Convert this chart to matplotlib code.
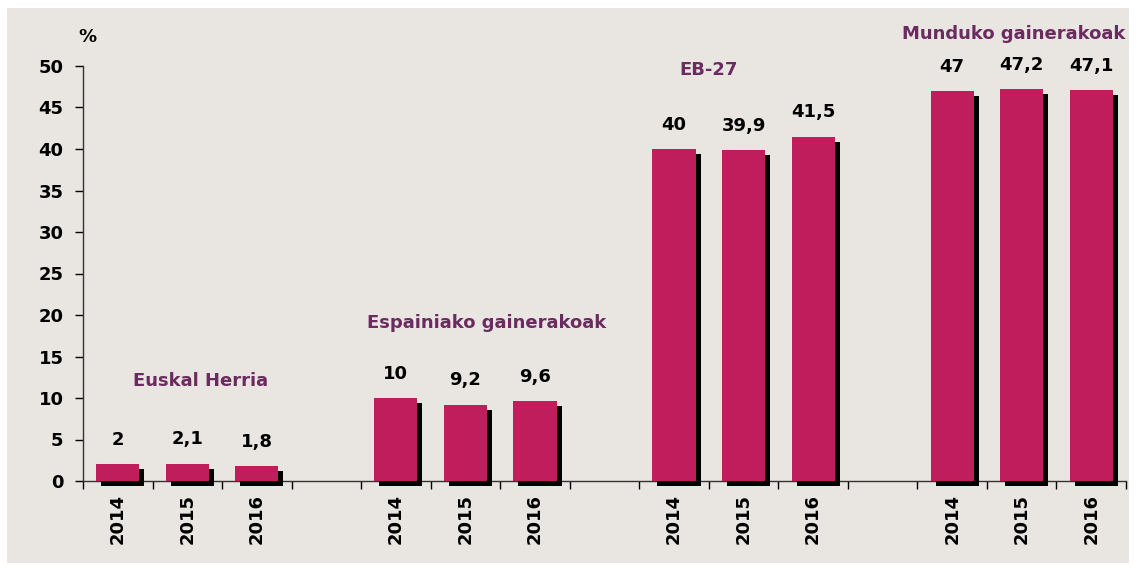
import numpy as np
import matplotlib.pyplot as plt
import matplotlib.patheffects as pe
from matplotlib.patches import Rectangle

# data
groups = ["Euskal Herria", "Espainiako gainerakoak", "EB-27", "Munduko gainerakoak"]
years = ["2014", "2015", "2016"]
euskal_herria = [2, 2.1, 1.8]
espainia = [10, 9.2, 9.6]
eb27 = [40, 39.9, 41.5]
mundua = [47, 47.2, 47.1]
series = [euskal_herria, espainia, eb27, mundua]

bar_color = "#C01D5C"
title_color = "#6B2B60"
bg = "#E9E6E1"

fig = plt.figure(figsize=(11.38, 5.71), dpi=100)
fig.patches.append(Rectangle((7 / 1138, 8 / 571), 1122 / 1138, 555 / 571,
                             transform=fig.transFigure, facecolor=bg,
                             edgecolor="none", zorder=-10))
ax = fig.add_axes([83 / 1138, 90 / 571, 1043 / 1138, 415 / 571])
ax.set_facecolor("none")

# slot positions: 3 bars + one empty slot between groups
xs, labels, vals = [], [], []
for g, vals_g in enumerate(series):
    for i, v in enumerate(vals_g):
        xs.append(g * 4 + i)
        labels.append(years[i])
        vals.append(v)

shadow = [pe.SimplePatchShadow(offset=(3.6, -3.6), shadow_rgbFace="black", alpha=1.0),
          pe.Normal()]
bars = ax.bar(xs, vals, width=0.62, color=bar_color, zorder=3)
for b in bars:
    b.set_path_effects(shadow)
    b.set_clip_on(False)

for x, v in zip(xs, vals):
    ax.annotate(f"{v:g}".replace(".", ","), (x, v), xytext=(0, 11),
                textcoords="offset points", ha="center", va="bottom",
                fontsize=13, fontweight="bold", color="black")

# group titles
title_pos = [(1.19, 12.0), (5.31, 19.0), (8.49, 49.5), (12.88, 53.9)]
for name, (tx, ty) in zip(groups, title_pos):
    ax.text(tx, ty, name, ha="center", va="center", fontsize=13,
            fontweight="bold", color=title_color, clip_on=False)

ax.set_xlim(-0.5, 14.5)
ax.set_ylim(0, 50)
ax.set_yticks(np.arange(0, 51, 5))
ax.tick_params(axis="y", labelsize=13, length=6, width=1, pad=8)
for t in ax.get_yticklabels():
    t.set_fontweight("bold")

ax.set_xticks(xs)
ax.set_xticklabels(labels, rotation=90, fontsize=13, fontweight="bold")
ax.set_xticks(np.arange(-0.5, 14.6, 1), minor=True)
ax.tick_params(axis="x", which="major", length=0, pad=9)
ax.tick_params(axis="x", which="minor", length=6, width=1)

for s in ["top", "right"]:
    ax.spines[s].set_visible(False)
for s in ["left", "bottom"]:
    ax.spines[s].set_color("#333333")
    ax.spines[s].set_linewidth(1)

ax.text(0.004, 1.07, "%", transform=ax.transAxes, fontsize=13,
        fontweight="bold", ha="center", va="center")

fig.savefig("out.png", dpi=100, facecolor="white")
